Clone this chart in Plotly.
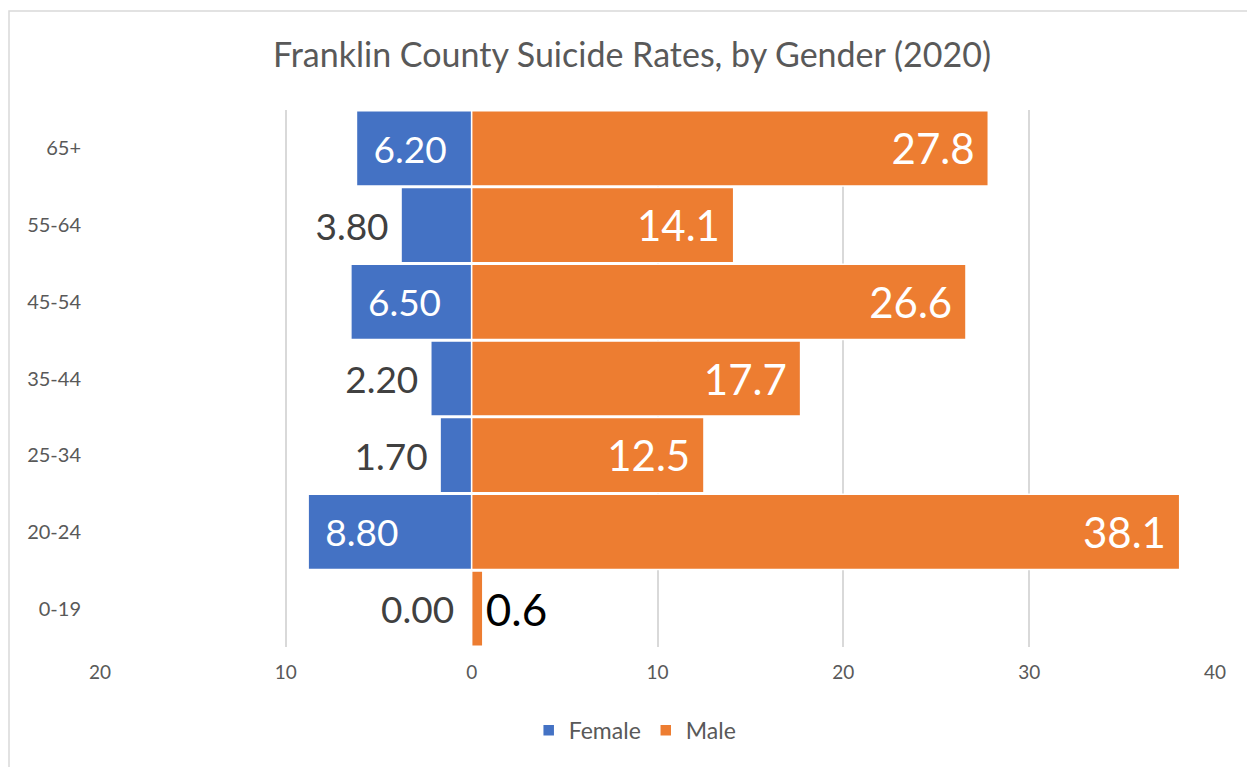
import plotly.graph_objects as go

categories = ["0-19", "20-24", "25-34", "35-44", "45-54", "55-64", "65+"]
female = [0.00, 8.80, 1.70, 2.20, 6.50, 3.80, 6.20]
male = [0.6, 38.1, 12.5, 17.7, 26.6, 14.1, 27.8]
tick_vals = [-20, -10, 0, 10, 20, 30, 40]
tick_text = ["20", "10", "0", "10", "20", "30", "40"]

BLUE = "#4472C4"
ORANGE = "#ED7D31"
FONT = "Lato"
NB = "\u00a0"
TH = "\u2009"
F_LBL = 37
M_LBL = 42
M_OUT = 44

W, H = 1247, 759
L, R, T, B = 92, 40, 102, 120
PW, PH = W - L - R, H - T - B

f_text, f_pos, f_col = [], [], []
for v in female:
    if v == 0:
        f_text.append("")
        f_pos.append("none")
        f_col.append("#404040")
    elif v < 5:
        f_text.append(f"{v:.2f}{NB}")
        f_pos.append("outside")
        f_col.append("#404040")
    else:
        f_text.append(f"{NB}{TH}{v:.2f}")
        f_pos.append("inside")
        f_col.append("white")

m_text, m_pos, m_col, m_size = [], [], [], []
for v in male:
    if v < 5:
        m_text.append(f"{v:.1f}")
        m_pos.append("outside")
        m_col.append("black")
        m_size.append(M_OUT)
    else:
        m_text.append(f"{v:.1f}{NB}")
        m_pos.append("inside")
        m_col.append("white")
        m_size.append(M_LBL)

fig = go.Figure()
fig.add_trace(go.Bar(
    y=categories, x=[-v for v in female], orientation="h", name="Female",
    marker=dict(color=BLUE, line=dict(color="white", width=1.5)),
    text=f_text, textposition=f_pos, textangle=0,
    textfont=dict(family=FONT, size=F_LBL, color=f_col),
    insidetextanchor="end", constraintext="none", cliponaxis=False,
))
fig.add_trace(go.Bar(
    y=categories, x=male, orientation="h", name="Male",
    marker=dict(color=ORANGE, line=dict(color="white", width=1.5)),
    text=m_text, textposition=m_pos, textangle=0,
    textfont=dict(family=FONT, size=m_size, color=m_col),
    insidetextanchor="end", constraintext="none", cliponaxis=False,
))

# label for the zero-valued female bar (plotly cannot place it on the left side)
annotations = []
for cat, v in zip(categories, female):
    if v == 0:
        annotations.append(dict(
            x=-v, y=cat, xref="x", yref="y", text=f"{v:.2f}{NB}",
            xanchor="right", yanchor="middle", showarrow=False, xshift=-6,
            font=dict(family=FONT, size=F_LBL, color="#404040")))

fig.update_layout(
    width=W, height=H,
    margin=dict(l=L, r=R, t=T, b=B, autoexpand=False),
    paper_bgcolor="white", plot_bgcolor="white",
    barmode="relative", bargap=0.02,
    title=dict(text="Franklin County Suicide Rates, by Gender (2020)",
               x=(624 - L) / PW, xanchor="center", y=1 - 47 / H, yanchor="middle",
               xref="paper",
               font=dict(family=FONT, size=34, color="#595959"), automargin=False),
    font=dict(family=FONT, color="#595959"),
    xaxis=dict(range=[-20, 40], tickvals=tick_vals, ticktext=tick_text,
               showgrid=True, gridcolor="#d9d9d9", gridwidth=1.5,
               zeroline=False, showline=False, automargin=False,
               tickfont=dict(family=FONT, size=19, color="#595959"),
               ticks="", ticklabelstandoff=12),
    yaxis=dict(showgrid=False, zeroline=False, showline=False, ticks="",
               automargin=False,
               tickfont=dict(family=FONT, size=20, color="#595959"),
               ticklabelstandoff=18),
    legend=dict(orientation="h", x=0.48, xanchor="center", y=-0.155, yanchor="middle",
                font=dict(family=FONT, size=23, color="#595959"),
                itemwidth=30, traceorder="normal"),
    showlegend=True,
    annotations=annotations,
    shapes=[dict(type="rect", xref="paper", yref="paper",
                 x0=(1 - L) / PW, x1=1.2, y0=-0.4, y1=1 + (T - 3) / PH,
                 line=dict(color="#d9d9d9", width=1.5), fillcolor="rgba(0,0,0,0)",
                 layer="below")],
)

fig.write_html("out.html")
